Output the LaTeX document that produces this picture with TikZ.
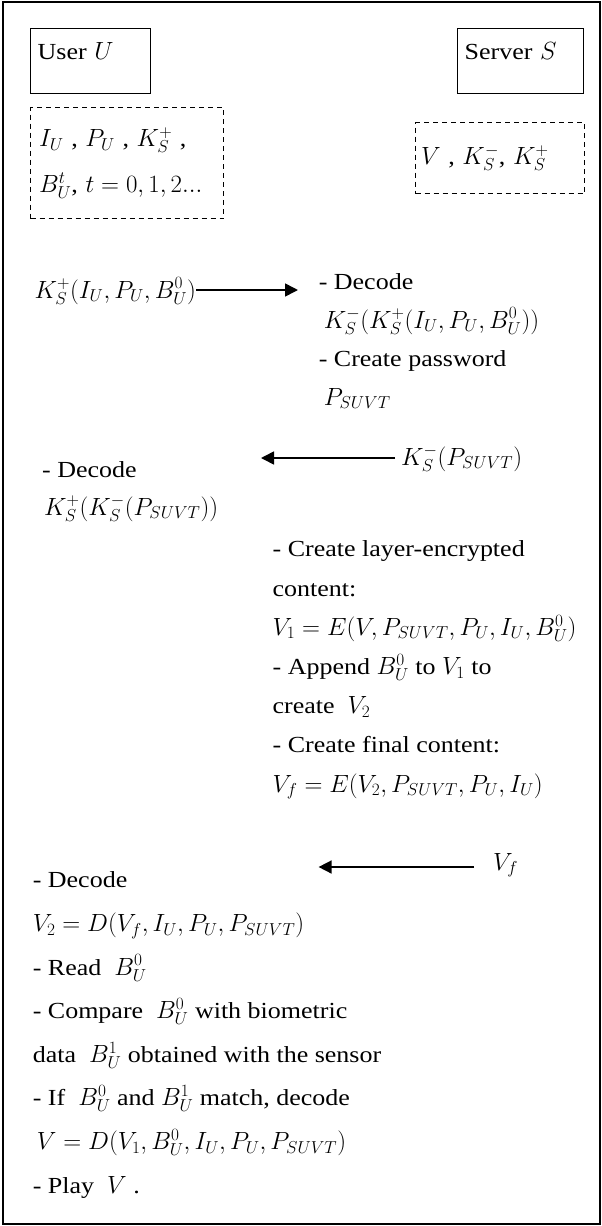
\documentclass[tikz,border=0pt]{standalone}
\usepackage{fontspec}
\setmainfont[FakeStretch=1.13]{Liberation Serif}
\usetikzlibrary{arrows.meta,positioning}

\begin{document}
\begin{tikzpicture}[
    x=1pt, y=-1pt,
    font=\fontsize{23}{39}\selectfont,
    party/.style={draw, line width=1.3pt, anchor=north west, align=left,
                  inner xsep=7pt, inner ysep=8pt, text height=23pt, text depth=26pt},
    store/.style={draw, dashed, dash pattern=on 5pt off 4pt, line width=1.1pt,
                  anchor=north west, align=left, inner ysep=0pt},
    steps/.style={anchor=base west, align=left, inner sep=0pt},
    msg/.style={-{Triangle[length=13pt,width=13pt]}, line width=1.6pt}
]
\useasboundingbox (0,0) rectangle (602,1226);
\draw[line width=1.5pt] (3,2) rectangle (600,1224);

% parties and what they hold
\node[party, text width=106pt, minimum height=65pt] (user) at (30,28) {User $U$};
\node[party, text width=112pt, minimum height=64pt] (server) at (457,28) {Server $S$};
\node[store, text width=176pt, minimum width=193pt, minimum height=111pt,
      inner xsep=8.5pt, font=\fontsize{23}{46}\selectfont] (ustore) at (30,107)
    {$I_U$ , $P_U$ , $K_S^+$ ,\\$B_U^t$, $t=0,1,2...$};
\node[store, text width=158pt, minimum width=169pt, minimum height=71pt,
      inner xsep=5.5pt] (sstore) at (415,122)
    {$V$ , $K_S^-$, $K_S^+$};

% registration (base = last line)
\node[steps] (reg) at (34.5,298) {$K_S^+(I_U,P_U,B_U^0)$};
\coordinate (regtip) at (298,290);
\draw[msg] (reg.east |- regtip) -- (regtip);
\node[steps, font=\fontsize{23}{38.5}\selectfont] (srvdec) at (318.6,405)
    {- Decode\\\hspace{5pt}$K_S^-(K_S^+(I_U,P_U,B_U^0))$\\- Create password\\\hspace{5pt}$P_{SUVT}$};

% password back to user
\node[steps] (pwd) at (401,465) {$K_S^-(P_{SUVT})$};
\coordinate (pwdtip) at (261,458);
\draw[msg, shorten <=6pt] (pwd.west |- pwdtip) -- (pwdtip);
\node[steps, font=\fontsize{23}{38}\selectfont] (usrdec) at (42,515)
    {- Decode\\\hspace{2pt}$K_S^+(K_S^-(P_{SUVT}))$};

% content encryption
\node[steps, font=\fontsize{23}{39.2}\selectfont] (srvenc) at (272.5,792)
    {- Create layer-encrypted\\content:\\$V_1=E(V,P_{SUVT},P_U,I_U,B_U^0)$\\
     - Append $B_U^0$ to $V_1$ to\\create \ $V_2$\\- Create final content:\\
     $V_f=E(V_2,P_{SUVT},P_U,I_U)$};

% delivery and playback
\node[steps] (final) at (493,870) {$V_f$};
\coordinate (finaltip) at (318.6,867);
\draw[msg, shorten <=19pt] (final.west |- finaltip) -- (finaltip);
\node[steps, font=\fontsize{23}{43.6}\selectfont] (usrplay) at (32.6,1193)
    {- Decode\\$V_2=D(V_f,I_U,P_U,P_{SUVT})$\\- Read \ $B_U^0$\\
     - Compare \ $B_U^0$ with biometric\\data \ $B_U^1$ obtained with the sensor\\
     - If \ $B_U^0$ and $B_U^1$ match, decode\\\hspace{4pt}$V=D(V_1,B_U^0,I_U,P_U,P_{SUVT})$\\
     - Play \ $V$ .};
\end{tikzpicture}
\end{document}
